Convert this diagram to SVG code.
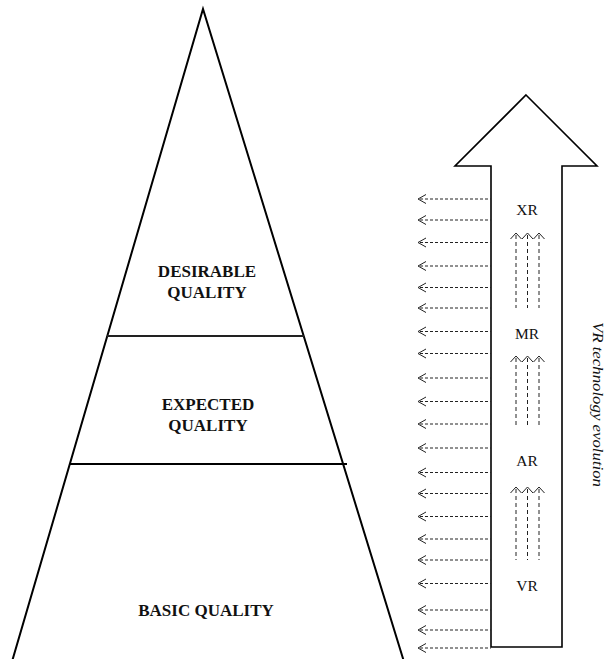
<svg xmlns="http://www.w3.org/2000/svg" width="608" height="659" viewBox="0 0 608 659">
<style>
.pyr{fill:none;stroke:#000;stroke-width:2}
.lvl{font-family:"Liberation Serif","Times New Roman",serif;font-weight:bold;font-size:17px;fill:#111;text-anchor:middle}
.tech{font-family:"Liberation Serif","Times New Roman",serif;font-size:15.5px;fill:#111;text-anchor:middle}
.dash{fill:none;stroke:#222;stroke-width:1;stroke-dasharray:3,2}
.vdash{fill:none;stroke:#222;stroke-width:1;stroke-dasharray:4,3}
.head{fill:none;stroke:#222;stroke-width:1}
</style>
<rect width="608" height="659" fill="#fff"/>
<g id="pyramid">
<polyline class="pyr" points="11,665 203,9 405,665"/>
<line x1="107" y1="336" x2="304" y2="336" stroke="#222" stroke-width="1.8"/>
<line x1="70" y1="464" x2="347" y2="464" stroke="#000" stroke-width="2"/>
</g>
<g id="desirable">
<text class="lvl" x="207" y="277">DESIRABLE</text>
<text class="lvl" x="207" y="298">QUALITY</text>
</g>
<g id="expected">
<text class="lvl" x="208" y="410">EXPECTED</text>
<text class="lvl" x="208" y="431">QUALITY</text>
</g>
<g id="basic">
<text class="lvl" x="206" y="616">BASIC QUALITY</text>
</g>
<g id="big-arrow">
<polygon points="526,95 597,166 562,166 562,647 491,647 491,166 455,166" fill="#fff" stroke="#000" stroke-width="1.6"/>
</g>
<g id="labels">
<text class="tech" x="527" y="215">XR</text>
<text class="tech" x="527" y="339">MR</text>
<text class="tech" x="527" y="466">AR</text>
<text class="tech" x="527" y="591">VR</text>
</g>
<g id="evolution-label">
<text transform="translate(592.5,322) rotate(90)" font-family="'Liberation Serif','Times New Roman',serif" font-style="italic" font-size="14" fill="#111" textLength="165" lengthAdjust="spacingAndGlyphs">VR technology evolution</text>
</g>
<g id="connectors">
<g id="left-arrows">
<path class="dash" d="M420,199H491M420,220H491M420,242.5H491M420,266H491M420,287.5H491M420,308H491M420,331.5H491M420,353.5H491M420,378H491M420,401.5H491M420,424H491M420,448H491M420,472.5H491M420,493.5H491M420,516.5H491M420,539H491M420,560H491M420,583.5H491M420,610H491M420,630H491M420,648H491"/>
<path class="head" d="M426,194.5L418,199L426,203.5M426,215.5L418,220L426,224.5M426,238L418,242.5L426,247M426,261.5L418,266L426,270.5M426,283L418,287.5L426,292M426,303.5L418,308L426,312.5M426,327L418,331.5L426,336M426,349L418,353.5L426,358M426,373.5L418,378L426,382.5M426,397L418,401.5L426,406M426,419.5L418,424L426,428.5M426,443.5L418,448L426,452.5M426,468L418,472.5L426,477M426,489L418,493.5L426,498M426,512L418,516.5L426,521M426,534.5L418,539L426,543.5M426,555.5L418,560L426,564.5M426,579L418,583.5L426,588M426,605.5L418,610L426,614.5M426,625.5L418,630L426,634.5M426,643.5L418,648L426,652.5"/>
</g>
<g id="up-arrows">
<path class="vdash" d="M516,235V308M527.5,235V308M539,235V308M516,358V428M527.5,358V428M539,358V428M516,489V560M527.5,489V560M539,489V560"/>
<path class="head" d="M510.5,239L516,233L521.5,239M522,239L527.5,233L533,239M533.5,239L539,233L544.5,239M510.5,362L516,356L521.5,362M522,362L527.5,356L533,362M533.5,362L539,356L544.5,362M510.5,493L516,487L521.5,493M522,493L527.5,487L533,493M533.5,493L539,487L544.5,493"/>
</g>
</g>
</svg>
